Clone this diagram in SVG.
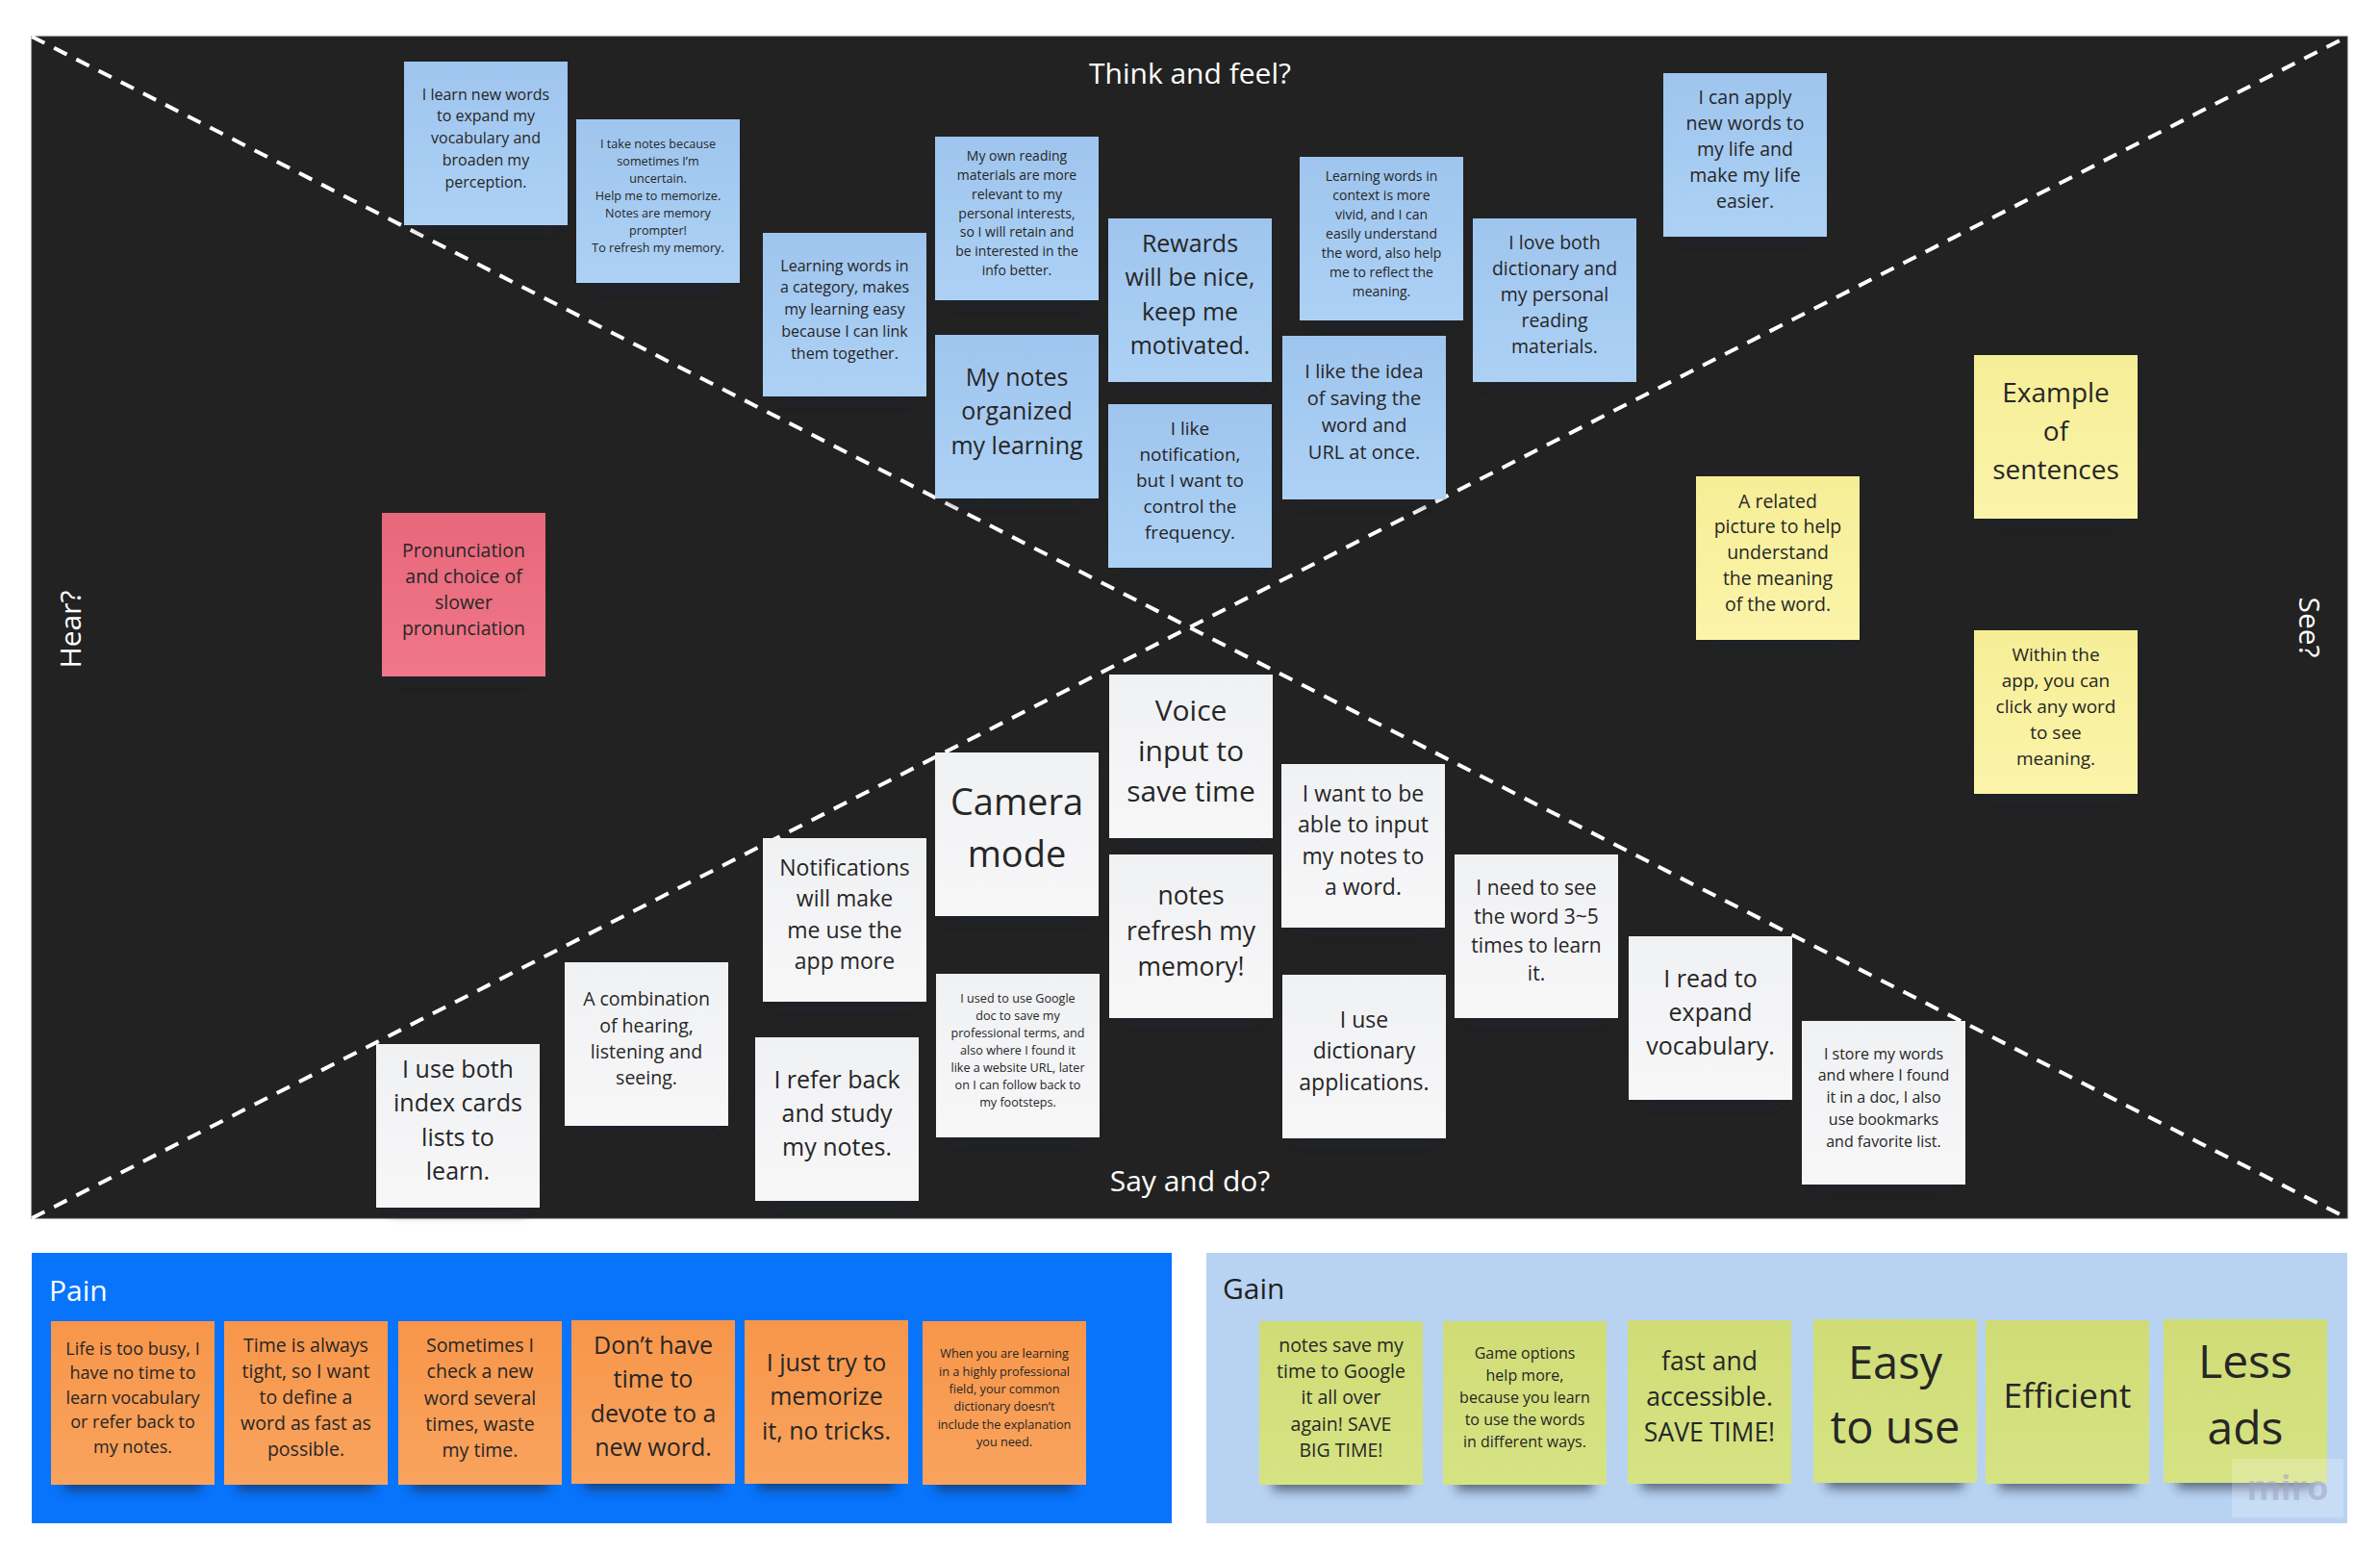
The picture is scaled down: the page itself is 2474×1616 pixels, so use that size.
<svg xmlns="http://www.w3.org/2000/svg" width="2474" height="1616" viewBox="0 0 2474 1616">
  <defs>
    <style>
      .t { font-family: "Open Sans", "Noto Sans", "Liberation Sans", sans-serif; fill: #262626; text-anchor: middle; }
      .lbl { font-family: "Open Sans", "Noto Sans", "Liberation Sans", sans-serif; font-size: 30px; fill: #ffffff; }
      .sh { fill: #1a2030; opacity: 0.6; filter: url(#blur); }
      .blue { fill: url(#gBlue); }
      .yellow { fill: url(#gYellow); }
      .pink { fill: url(#gPink); }
      .white { fill: url(#gWhite); }
      .orange { fill: url(#gOrange); }
      .lime { fill: url(#gLime); }
      .dash { stroke: #ffffff; stroke-width: 4; stroke-dasharray: 15 11; fill: none; }
    </style>
    <filter id="blur" x="-20%" y="-80%" width="140%" height="260%">
      <feGaussianBlur stdDeviation="6"/>
    </filter>
    <linearGradient id="gBlue" x1="0" y1="0" x2="0" y2="1">
      <stop offset="0" stop-color="#9fc5ee"/><stop offset="1" stop-color="#add1f5"/>
    </linearGradient>
    <linearGradient id="gYellow" x1="0" y1="0" x2="0" y2="1">
      <stop offset="0" stop-color="#f6ee96"/><stop offset="1" stop-color="#fbf4aa"/>
    </linearGradient>
    <linearGradient id="gPink" x1="0" y1="0" x2="0" y2="1">
      <stop offset="0" stop-color="#e8677a"/><stop offset="1" stop-color="#ef7789"/>
    </linearGradient>
    <linearGradient id="gWhite" x1="0" y1="0" x2="0" y2="1">
      <stop offset="0" stop-color="#f0f1f3"/><stop offset="1" stop-color="#f7f7f8"/>
    </linearGradient>
    <linearGradient id="gOrange" x1="0" y1="0" x2="0" y2="1">
      <stop offset="0" stop-color="#f7964a"/><stop offset="1" stop-color="#f9a35e"/>
    </linearGradient>
    <linearGradient id="gLime" x1="0" y1="0" x2="0" y2="1">
      <stop offset="0" stop-color="#cfdc76"/><stop offset="1" stop-color="#d6e383"/>
    </linearGradient>
  </defs>

  <rect x="0" y="0" width="2474" height="1616" fill="#ffffff"/>

  <!-- empathy map board -->
  <g id="board">
    <rect x="33" y="38" width="2407" height="1228" fill="#222222" stroke="#3c3c3c" stroke-width="1"/>
  </g>

  <!-- diagonal dashed dividers -->
  <g id="connectors">
    <line class="dash" x1="33" y1="38" x2="2440" y2="1266"/>
    <line class="dash" x1="33" y1="1266" x2="2440" y2="38"/>
  </g>

  <!-- quadrant labels -->
  <g id="labels">
    <text class="lbl" x="1237" y="87" text-anchor="middle">Think and feel?</text>
    <text class="lbl" x="1237" y="1238" text-anchor="middle">Say and do?</text>
    <text class="lbl" transform="translate(84,654) rotate(-90)" text-anchor="middle">Hear?</text>
    <text class="lbl" transform="translate(2390,652) rotate(90)" text-anchor="middle">See?</text>
  </g>

  <!-- Think and feel -->
  <g id="n1">
    <rect class="sh" x="434" y="214" width="142" height="26"/>
    <rect class="blue" x="420" y="64" width="170" height="170"/>
    <text class="t" font-size="16" x="505" y="103.7"><tspan x="505">I learn new words</tspan><tspan x="505" dy="22.7">to expand my</tspan><tspan x="505" dy="22.7">vocabulary and</tspan><tspan x="505" dy="22.7">broaden my</tspan><tspan x="505" dy="22.7">perception.</tspan></text>
  </g>
  <g id="n2">
    <rect class="sh" x="613" y="274" width="142" height="26"/>
    <rect class="blue" x="599" y="124" width="170" height="170"/>
    <text class="t" font-size="12.6" x="684" y="154"><tspan x="684">I take notes because</tspan><tspan x="684" dy="18">sometimes I’m</tspan><tspan x="684" dy="18">uncertain.</tspan><tspan x="684" dy="18">Help me to memorize.</tspan><tspan x="684" dy="18">Notes are memory</tspan><tspan x="684" dy="18">prompter!</tspan><tspan x="684" dy="18">To refresh my memory.</tspan></text>
  </g>
  <g id="n3">
    <rect class="sh" x="807" y="392" width="142" height="26"/>
    <rect class="blue" x="793" y="242" width="170" height="170"/>
    <text class="t" font-size="16" x="878" y="281.7"><tspan x="878">Learning words in</tspan><tspan x="878" dy="22.7">a category, makes</tspan><tspan x="878" dy="22.7">my learning easy</tspan><tspan x="878" dy="22.7">because I can link</tspan><tspan x="878" dy="22.7">them together.</tspan></text>
  </g>
  <g id="n4">
    <rect class="sh" x="986" y="292" width="142" height="26"/>
    <rect class="blue" x="972" y="142" width="170" height="170"/>
    <text class="t" font-size="14" x="1057" y="167.1"><tspan x="1057">My own reading</tspan><tspan x="1057" dy="19.8">materials are more</tspan><tspan x="1057" dy="19.8">relevant to my</tspan><tspan x="1057" dy="19.8">personal interests,</tspan><tspan x="1057" dy="19.8">so I will retain and</tspan><tspan x="1057" dy="19.8">be interested in the</tspan><tspan x="1057" dy="19.8">info better.</tspan></text>
  </g>
  <g id="n5">
    <rect class="sh" x="986" y="498" width="142" height="26"/>
    <rect class="blue" x="972" y="348" width="170" height="170"/>
    <text class="t" font-size="25" x="1057" y="400.5"><tspan x="1057">My notes</tspan><tspan x="1057" dy="35.5">organized</tspan><tspan x="1057" dy="35.5">my learning</tspan></text>
  </g>
  <g id="n6">
    <rect class="sh" x="1166" y="377" width="142" height="26"/>
    <rect class="blue" x="1152" y="227" width="170" height="170"/>
    <text class="t" font-size="25" x="1237" y="261.8"><tspan x="1237">Rewards</tspan><tspan x="1237" dy="35.5">will be nice,</tspan><tspan x="1237" dy="35.5">keep me</tspan><tspan x="1237" dy="35.5">motivated.</tspan></text>
  </g>
  <g id="n7">
    <rect class="sh" x="1166" y="570" width="142" height="26"/>
    <rect class="blue" x="1152" y="420" width="170" height="170"/>
    <text class="t" font-size="19" x="1237" y="452"><tspan x="1237">I like</tspan><tspan x="1237" dy="27">notification,</tspan><tspan x="1237" dy="27">but I want to</tspan><tspan x="1237" dy="27">control the</tspan><tspan x="1237" dy="27">frequency.</tspan></text>
  </g>
  <g id="n8">
    <rect class="sh" x="1365" y="313" width="142" height="26"/>
    <rect class="blue" x="1351" y="163" width="170" height="170"/>
    <text class="t" font-size="14" x="1436" y="187.5"><tspan x="1436">Learning words in</tspan><tspan x="1436" dy="20">context is more</tspan><tspan x="1436" dy="20">vivid, and I can</tspan><tspan x="1436" dy="20">easily understand</tspan><tspan x="1436" dy="20">the word, also help</tspan><tspan x="1436" dy="20">me to reflect the</tspan><tspan x="1436" dy="20">meaning.</tspan></text>
  </g>
  <g id="n9">
    <rect class="sh" x="1347" y="499" width="142" height="26"/>
    <rect class="blue" x="1333" y="349" width="170" height="170"/>
    <text class="t" font-size="20" x="1418" y="393.4"><tspan x="1418">I like the idea</tspan><tspan x="1418" dy="28">of saving the</tspan><tspan x="1418" dy="28">word and</tspan><tspan x="1418" dy="28">URL at once.</tspan></text>
  </g>
  <g id="n10">
    <rect class="sh" x="1545" y="377" width="142" height="26"/>
    <rect class="blue" x="1531" y="227" width="170" height="170"/>
    <text class="t" font-size="19.5" x="1616" y="259.2"><tspan x="1616">I love both</tspan><tspan x="1616" dy="27">dictionary and</tspan><tspan x="1616" dy="27">my personal</tspan><tspan x="1616" dy="27">reading</tspan><tspan x="1616" dy="27">materials.</tspan></text>
  </g>
  <g id="n11">
    <rect class="sh" x="1743" y="226" width="142" height="26"/>
    <rect class="blue" x="1729" y="76" width="170" height="170"/>
    <text class="t" font-size="19.5" x="1814" y="108.2"><tspan x="1814">I can apply</tspan><tspan x="1814" dy="27">new words to</tspan><tspan x="1814" dy="27">my life and</tspan><tspan x="1814" dy="27">make my life</tspan><tspan x="1814" dy="27">easier.</tspan></text>
  </g>

  <!-- See -->
  <g id="n12">
    <rect class="sh" x="2066" y="519" width="142" height="26"/>
    <rect class="yellow" x="2052" y="369" width="170" height="170"/>
    <text class="t" font-size="28" x="2137" y="418"><tspan x="2137">Example</tspan><tspan x="2137" dy="40">of</tspan><tspan x="2137" dy="40">sentences</tspan></text>
  </g>
  <g id="n13">
    <rect class="sh" x="1777" y="645" width="142" height="26"/>
    <rect class="yellow" x="1763" y="495" width="170" height="170"/>
    <text class="t" font-size="19.5" x="1848" y="527.6"><tspan x="1848">A related</tspan><tspan x="1848" dy="26.8">picture to help</tspan><tspan x="1848" dy="26.8">understand</tspan><tspan x="1848" dy="26.8">the meaning</tspan><tspan x="1848" dy="26.8">of the word.</tspan></text>
  </g>
  <g id="n14">
    <rect class="sh" x="2066" y="805" width="142" height="26"/>
    <rect class="yellow" x="2052" y="655" width="170" height="170"/>
    <text class="t" font-size="19" x="2137" y="686.6"><tspan x="2137">Within the</tspan><tspan x="2137" dy="27.2">app, you can</tspan><tspan x="2137" dy="27.2">click any word</tspan><tspan x="2137" dy="27.2">to see</tspan><tspan x="2137" dy="27.2">meaning.</tspan></text>
  </g>

  <!-- Hear -->
  <g id="n15">
    <rect class="sh" x="411" y="683" width="142" height="26"/>
    <rect class="pink" x="397" y="533" width="170" height="170"/>
    <text class="t" font-size="19.5" x="482" y="578.7"><tspan x="482">Pronunciation</tspan><tspan x="482" dy="27">and choice of</tspan><tspan x="482" dy="27">slower</tspan><tspan x="482" dy="27">pronunciation</tspan></text>
  </g>

  <!-- Say and do -->
  <g id="n16">
    <rect class="sh" x="1167" y="851" width="142" height="26"/>
    <rect class="white" x="1153" y="701" width="170" height="170"/>
    <text class="t" font-size="30" x="1238" y="748.6"><tspan x="1238">Voice</tspan><tspan x="1238" dy="42">input to</tspan><tspan x="1238" dy="42">save time</tspan></text>
  </g>
  <g id="n17">
    <rect class="sh" x="986" y="932" width="142" height="26"/>
    <rect class="white" x="972" y="782" width="170" height="170"/>
    <text class="t" font-size="38" x="1057" y="847"><tspan x="1057">Camera</tspan><tspan x="1057" dy="53.6">mode</tspan></text>
  </g>
  <g id="n18">
    <rect class="sh" x="1167" y="1038" width="142" height="26"/>
    <rect class="white" x="1153" y="888" width="170" height="170"/>
    <text class="t" font-size="26.5" x="1238" y="939.5"><tspan x="1238">notes</tspan><tspan x="1238" dy="37">refresh my</tspan><tspan x="1238" dy="37">memory!</tspan></text>
  </g>
  <g id="n19">
    <rect class="sh" x="1346" y="944" width="142" height="26"/>
    <rect class="white" x="1332" y="794" width="170" height="170"/>
    <text class="t" font-size="23" x="1417" y="832.6"><tspan x="1417">I want to be</tspan><tspan x="1417" dy="32.5">able to input</tspan><tspan x="1417" dy="32.5">my notes to</tspan><tspan x="1417" dy="32.5">a word.</tspan></text>
  </g>
  <g id="n20">
    <rect class="sh" x="807" y="1021" width="142" height="26"/>
    <rect class="white" x="793" y="871" width="170" height="170"/>
    <text class="t" font-size="23" x="878" y="909.6"><tspan x="878">Notifications</tspan><tspan x="878" dy="32.5">will make</tspan><tspan x="878" dy="32.5">me use the</tspan><tspan x="878" dy="32.5">app more</tspan></text>
  </g>
  <g id="n21">
    <rect class="sh" x="1526" y="1038" width="142" height="26"/>
    <rect class="white" x="1512" y="888" width="170" height="170"/>
    <text class="t" font-size="21" x="1597" y="930.2"><tspan x="1597">I need to see</tspan><tspan x="1597" dy="29.7">the word 3~5</tspan><tspan x="1597" dy="29.7">times to learn</tspan><tspan x="1597" dy="29.7">it.</tspan></text>
  </g>
  <g id="n22">
    <rect class="sh" x="601" y="1150" width="142" height="26"/>
    <rect class="white" x="587" y="1000" width="170" height="170"/>
    <text class="t" font-size="19.5" x="672" y="1045.4"><tspan x="672">A combination</tspan><tspan x="672" dy="27.2">of hearing,</tspan><tspan x="672" dy="27.2">listening and</tspan><tspan x="672" dy="27.2">seeing.</tspan></text>
  </g>
  <g id="n23">
    <rect class="sh" x="987" y="1162" width="142" height="26"/>
    <rect class="white" x="973" y="1012" width="170" height="170"/>
    <text class="t" font-size="12.6" x="1058" y="1042"><tspan x="1058">I used to use Google</tspan><tspan x="1058" dy="18">doc to save my</tspan><tspan x="1058" dy="18">professional terms, and</tspan><tspan x="1058" dy="18">also where I found it</tspan><tspan x="1058" dy="18">like a website URL, later</tspan><tspan x="1058" dy="18">on I can follow back to</tspan><tspan x="1058" dy="18">my footsteps.</tspan></text>
  </g>
  <g id="n24">
    <rect class="sh" x="1347" y="1163" width="142" height="26"/>
    <rect class="white" x="1333" y="1013" width="170" height="170"/>
    <text class="t" font-size="23" x="1418" y="1067.9"><tspan x="1418">I use</tspan><tspan x="1418" dy="32.5">dictionary</tspan><tspan x="1418" dy="32.5">applications.</tspan></text>
  </g>
  <g id="n25">
    <rect class="sh" x="1707" y="1123" width="142" height="26"/>
    <rect class="white" x="1693" y="973" width="170" height="170"/>
    <text class="t" font-size="25" x="1778" y="1026"><tspan x="1778">I read to</tspan><tspan x="1778" dy="35">expand</tspan><tspan x="1778" dy="35">vocabulary.</tspan></text>
  </g>
  <g id="n26">
    <rect class="sh" x="405" y="1235" width="142" height="26"/>
    <rect class="white" x="391" y="1085" width="170" height="170"/>
    <text class="t" font-size="25" x="476" y="1119.6"><tspan x="476">I use both</tspan><tspan x="476" dy="35.6">index cards</tspan><tspan x="476" dy="35.6">lists to</tspan><tspan x="476" dy="35.6">learn.</tspan></text>
  </g>
  <g id="n27">
    <rect class="sh" x="799" y="1228" width="142" height="26"/>
    <rect class="white" x="785" y="1078" width="170" height="170"/>
    <text class="t" font-size="25" x="870" y="1130.8"><tspan x="870">I refer back</tspan><tspan x="870" dy="35.2">and study</tspan><tspan x="870" dy="35.2">my notes.</tspan></text>
  </g>
  <g id="n28">
    <rect class="sh" x="1887" y="1211" width="142" height="26"/>
    <rect class="white" x="1873" y="1061" width="170" height="170"/>
    <text class="t" font-size="16" x="1958" y="1100.5"><tspan x="1958">I store my words</tspan><tspan x="1958" dy="22.8">and where I found</tspan><tspan x="1958" dy="22.8">it in a doc, I also</tspan><tspan x="1958" dy="22.8">use bookmarks</tspan><tspan x="1958" dy="22.8">and favorite list.</tspan></text>
  </g>

  <!-- Pain -->
  <g id="pain">
    <rect x="33" y="1302" width="1185" height="281" fill="#0874fc"/>
    <text class="lbl" x="51" y="1352">Pain</text>
  </g>
  <g id="p1">
    <rect class="sh" x="67" y="1523" width="142" height="26"/>
    <rect class="orange" x="53" y="1373" width="170" height="170"/>
    <text class="t" font-size="18" x="138" y="1408"><tspan x="138">Life is too busy, I</tspan><tspan x="138" dy="25.4">have no time to</tspan><tspan x="138" dy="25.4">learn vocabulary</tspan><tspan x="138" dy="25.4">or refer back to</tspan><tspan x="138" dy="25.4">my notes.</tspan></text>
  </g>
  <g id="p2">
    <rect class="sh" x="247" y="1523" width="142" height="26"/>
    <rect class="orange" x="233" y="1373" width="170" height="170"/>
    <text class="t" font-size="19.5" x="318" y="1405.2"><tspan x="318">Time is always</tspan><tspan x="318" dy="27">tight, so I want</tspan><tspan x="318" dy="27">to define a</tspan><tspan x="318" dy="27">word as fast as</tspan><tspan x="318" dy="27">possible.</tspan></text>
  </g>
  <g id="p3">
    <rect class="sh" x="428" y="1523" width="142" height="26"/>
    <rect class="orange" x="414" y="1373" width="170" height="170"/>
    <text class="t" font-size="19.5" x="499" y="1405"><tspan x="499">Sometimes I</tspan><tspan x="499" dy="27.3">check a new</tspan><tspan x="499" dy="27.3">word several</tspan><tspan x="499" dy="27.3">times, waste</tspan><tspan x="499" dy="27.3">my time.</tspan></text>
  </g>
  <g id="p4">
    <rect class="sh" x="608" y="1522" width="142" height="26"/>
    <rect class="orange" x="594" y="1372" width="170" height="170"/>
    <text class="t" font-size="25" x="679" y="1406.8"><tspan x="679">Don’t have</tspan><tspan x="679" dy="35.5">time to</tspan><tspan x="679" dy="35.5">devote to a</tspan><tspan x="679" dy="35.5">new word.</tspan></text>
  </g>
  <g id="p5">
    <rect class="sh" x="788" y="1522" width="142" height="26"/>
    <rect class="orange" x="774" y="1372" width="170" height="170"/>
    <text class="t" font-size="25" x="859" y="1424.5"><tspan x="859">I just try to</tspan><tspan x="859" dy="35.5">memorize</tspan><tspan x="859" dy="35.5">it, no tricks.</tspan></text>
  </g>
  <g id="p6">
    <rect class="sh" x="973" y="1523" width="142" height="26"/>
    <rect class="orange" x="959" y="1373" width="170" height="170"/>
    <text class="t" font-size="12.7" x="1044" y="1411.3"><tspan x="1044">When you are learning</tspan><tspan x="1044" dy="18.3">in a highly professional</tspan><tspan x="1044" dy="18.3">field, your common</tspan><tspan x="1044" dy="18.3">dictionary doesn’t</tspan><tspan x="1044" dy="18.3">include the explanation</tspan><tspan x="1044" dy="18.3">you need.</tspan></text>
  </g>

  <!-- Gain -->
  <g id="gain">
    <rect x="1254" y="1302" width="1186" height="281" fill="#b8d3f2"/>
    <text class="lbl" x="1271" y="1350" style="fill:#1f1f1f">Gain</text>
  </g>
  <g id="g1">
    <rect class="sh" x="1323" y="1523" width="142" height="26"/>
    <rect class="lime" x="1309" y="1373" width="170" height="170"/>
    <text class="t" font-size="19.5" x="1394" y="1404.6"><tspan x="1394">notes save my</tspan><tspan x="1394" dy="27.3">time to Google</tspan><tspan x="1394" dy="27.3">it all over</tspan><tspan x="1394" dy="27.3">again! SAVE</tspan><tspan x="1394" dy="27.3">BIG TIME!</tspan></text>
  </g>
  <g id="g2">
    <rect class="sh" x="1514" y="1523" width="142" height="26"/>
    <rect class="lime" x="1500" y="1373" width="170" height="170"/>
    <text class="t" font-size="16" x="1585" y="1412.3"><tspan x="1585">Game options</tspan><tspan x="1585" dy="22.9">help more,</tspan><tspan x="1585" dy="22.9">because you learn</tspan><tspan x="1585" dy="22.9">to use the words</tspan><tspan x="1585" dy="22.9">in different ways.</tspan></text>
  </g>
  <g id="g3">
    <rect class="sh" x="1706" y="1522" width="142" height="26"/>
    <rect class="lime" x="1692" y="1372" width="170" height="170"/>
    <text class="t" font-size="26.5" x="1777" y="1423.5"><tspan x="1777">fast and</tspan><tspan x="1777" dy="37">accessible.</tspan><tspan x="1777" dy="37">SAVE TIME!</tspan></text>
  </g>
  <g id="g4">
    <rect class="sh" x="1899" y="1521" width="142" height="26"/>
    <rect class="lime" x="1885" y="1371" width="170" height="170"/>
    <text class="t" font-size="47" x="1970" y="1432.5"><tspan x="1970">Easy</tspan><tspan x="1970" dy="67">to use</tspan></text>
  </g>
  <g id="g5">
    <rect class="sh" x="2078" y="1522" width="142" height="26"/>
    <rect class="lime" x="2064" y="1372" width="170" height="170"/>
    <text class="t" font-size="35.5" x="2149" y="1463">Efficient</text>
  </g>
  <g id="g6">
    <rect class="sh" x="2263" y="1521" width="142" height="26"/>
    <rect class="lime" x="2249" y="1371" width="170" height="170"/>
    <text class="t" font-size="48" x="2334" y="1432"><tspan x="2334">Less</tspan><tspan x="2334" dy="69">ads</tspan></text>
  </g>

  <!-- board watermark -->
  <g id="watermark">
    <rect x="2320" y="1516" width="116" height="61" fill="#ffffff" opacity="0.22"/>
    <text x="2378" y="1559" text-anchor="middle" font-family="Open Sans, Noto Sans, sans-serif" font-weight="bold" font-size="36" fill="#9ea5c4" opacity="0.55">miro</text>
  </g>
</svg>
